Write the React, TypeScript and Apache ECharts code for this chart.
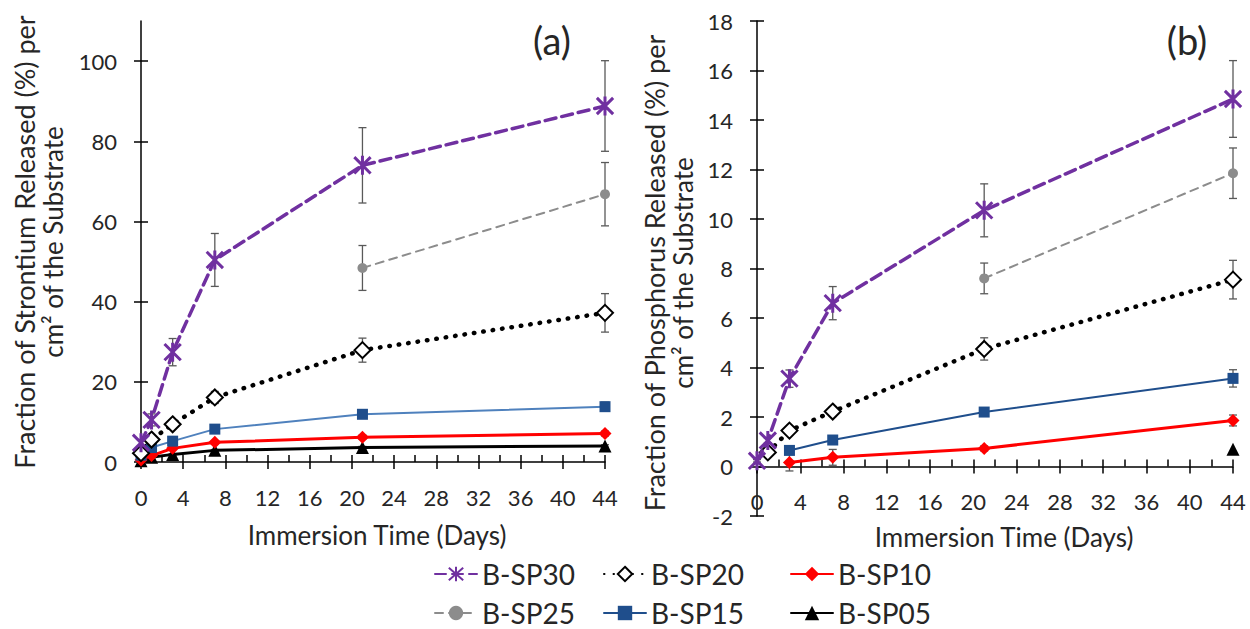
import React, { useEffect, useRef } from 'react';
import * as echarts from 'echarts';

// ---------- data ----------
const days = [0, 1, 3, 7, 21, 44];
const xTicks = [0, 4, 8, 12, 16, 20, 24, 28, 32, 36, 40, 44];
const srTicks = [0, 20, 40, 60, 80, 100];
const pTicks = [-2, 0, 2, 4, 6, 8, 10, 12, 14, 16, 18];

// Panel (a): Strontium released
const srSP30 = [4.8, 10.5, 27.4, 50.4, 74.0, 88.8];
const srSP30Err = [0.8, 1.5, 3.4, 6.6, 9.4, 11.3];
const srSP25 = [null, null, null, null, 48.4, 66.8];
const srSP25Err = [0, 0, 0, 0, 5.6, 7.9];
const srSP20 = [2.2, 5.6, 9.4, 16.1, 27.9, 37.2];
const srSP20Err = [0.3, 0.6, 1.0, 1.5, 3.0, 4.8];
const srSP15 = [1.7, 3.6, 5.2, 8.2, 11.9, 13.8];
const srSP15Err = [0.2, 0.3, 0.4, 0.6, 0.8, 1.1];
const srSP10 = [0.5, 1.6, 3.4, 4.9, 6.2, 7.1];
const srSP10Err = [0.1, 0.2, 0.3, 0.4, 0.5, 0.6];
const srSP05 = [0.3, 1.2, 1.9, 2.9, 3.6, 4.0];
const srSP05Err = [0.1, 0.1, 0.2, 0.2, 0.3, 0.3];

// Panel (b): Phosphorus released
const pSP30 = [0.23, 1.05, 3.55, 6.6, 10.35, 14.85];
const pSP30Err = [0.05, 0.1, 0.35, 0.67, 1.07, 1.55];
const pSP25 = [null, null, null, null, 7.6, 11.85];
const pSP25Err = [0, 0, 0, 0, 0.62, 1.02];
const pSP20 = [null, 0.57, 1.45, 2.22, 4.75, 7.55];
const pSP20Err = [0, 0.08, 0.12, 0.2, 0.45, 0.78];
const pSP15 = [null, null, 0.65, 1.07, 2.2, 3.56];
const pSP15Err = [0, 0, 0.05, 0.1, 0.12, 0.35];
const pSP10 = [null, null, 0.16, 0.37, 0.73, 1.86];
const pSP10Err = [0, 0, 0.34, 0.32, 0.1, 0.22];
const pSP05 = [null, null, null, null, null, 0.7];
const pSP05Err = [0, 0, 0, 0, 0, 0];

// ---------- styles ----------
const FONT = 'Lato, "Open Sans", sans-serif';
const TEXT = '#262626';
const STAR = 'path://M1,1L13,13M13,1L1,13M7,0L7,14';

type Sty = {
  color: string; width: number; type: any; symbol: string;
  size: number; border?: number; borderColor?: string;
};
const STY: Record<string, Sty> = {
  'B-SP30': { color: '#7030A0', width: 3.5, type: [11, 6], symbol: STAR, size: 19, border: 3, borderColor: '#7030A0' },
  'B-SP25': { color: '#8C8C8C', width: 2, type: [8, 6], symbol: 'circle', size: 10 },
  'B-SP20': { color: '#000000', width: 4.5, type: [0.5, 9], symbol: 'emptyDiamond', size: 16, border: 3 },
  'B-SP15': { color: '#1F4E8C', width: 2, type: 'solid', symbol: 'rect', size: 11 },
  'B-SP10': { color: '#FF0000', width: 3, type: 'solid', symbol: 'diamond', size: 13 },
  'B-SP05': { color: '#000000', width: 3, type: 'solid', symbol: 'triangle', size: 13 },
};

function pts(vals: (number | null)[]) {
  return days.map((d, i) => (vals[i] == null ? null : [d, vals[i]])).filter((p) => p !== null);
}
function errs(vals: (number | null)[], e: number[]) {
  return days
    .map((d, i) => (vals[i] == null || !e[i] ? null : [d, (vals[i] as number) - e[i], (vals[i] as number) + e[i]]))
    .filter((p) => p !== null);
}

function lineSeries(name: string, vals: (number | null)[], axis: number, lineColor?: string, z = 3) {
  const s = STY[name];
  return {
    type: 'line',
    name,
    xAxisIndex: axis,
    yAxisIndex: axis,
    data: pts(vals),
    symbol: s.symbol,
    symbolSize: s.size,
    symbolKeepAspect: true,
    showAllSymbol: true,
    z,
    lineStyle: { color: lineColor || s.color, width: s.width, type: s.type, cap: 'round' },
    itemStyle: {
      color: s.color,
      borderColor: s.borderColor || s.color,
      borderWidth: s.border || 0,
    },
    emphasis: { disabled: true },
  };
}

function errSeries(data: any[], axis: number) {
  return {
    type: 'custom',
    xAxisIndex: axis,
    yAxisIndex: axis,
    data,
    z: 2,
    silent: true,
    encode: { x: 0, y: [1, 2] },
    renderItem: (params: any, api: any) => {
      const x = api.value(0);
      const p1 = api.coord([x, api.value(1)]);
      const p2 = api.coord([x, api.value(2)]);
      const w = 4;
      const st = { stroke: '#595959', lineWidth: 1.3 };
      return {
        type: 'group',
        children: [
          { type: 'line', shape: { x1: p1[0], y1: p1[1], x2: p2[0], y2: p2[1] }, style: st },
          { type: 'line', shape: { x1: p1[0] - w, y1: p1[1], x2: p1[0] + w, y2: p1[1] }, style: st },
          { type: 'line', shape: { x1: p2[0] - w, y1: p2[1], x2: p2[0] + w, y2: p2[1] }, style: st },
        ],
      };
    },
  };
}

function xAxes(grid: number, offset: number) {
  const base = {
    type: 'value', gridIndex: grid, min: 0, max: 44, interval: 4, position: 'bottom', offset,
    splitLine: { show: false },
  };
  return [
    {
      ...base,
      axisLine: { show: true, onZero: false, lineStyle: { color: '#000', width: 1.5 } },
      axisTick: { show: true, inside: false, length: 7, lineStyle: { color: '#000', width: 1.5 } },
      axisLabel: { show: true, margin: 24, fontSize: 22, fontFamily: FONT, color: TEXT, customValues: xTicks },
    },
    {
      ...base,
      axisLine: { show: false, onZero: false },
      axisTick: { show: true, inside: true, length: 7, lineStyle: { color: '#000', width: 1.5 } },
      minorTick: { show: true, splitNumber: 2, length: 7, lineStyle: { color: '#000', width: 1.5 } },
      axisLabel: { show: false },
    },
  ];
}

function yAxes(grid: number, min: number, max: number, interval: number, ticks: number[]) {
  const base = { type: 'value', gridIndex: grid, min, max, interval, position: 'left', splitLine: { show: false } };
  return [
    {
      ...base,
      axisLine: { show: true, onZero: false, lineStyle: { color: '#000', width: 1.5 } },
      axisTick: { show: true, inside: false, length: 7, customValues: ticks, lineStyle: { color: '#000', width: 1.5 } },
      axisLabel: { show: true, margin: 24, fontSize: 22, fontFamily: FONT, color: TEXT, customValues: ticks },
    },
    {
      ...base,
      axisLine: { show: false, onZero: false },
      axisTick: { show: true, inside: true, length: 7, customValues: ticks, lineStyle: { color: '#000', width: 1.5 } },
      axisLabel: { show: false },
    },
  ];
}

function txt(text: string, x: number, y: number, size: number, rot = 0) {
  return {
    type: 'text',
    x,
    y,
    rotation: rot,
    silent: true,
    style: {
      text,
      font: `${size}px ${FONT}`,
      fill: TEXT,
      textAlign: 'center',
      textVerticalAlign: 'middle',
      align: 'center',
      verticalAlign: 'middle',
    },
  };
}

function legendItem(left: number, top: number, name: string) {
  return {
    left,
    top,
    padding: 0,
    itemWidth: 42,
    itemHeight: 18,
    selectedMode: false,
    data: [name],
    textStyle: { fontSize: 28, fontFamily: FONT, color: TEXT, lineHeight: 30 },
  };
}

export default function App() {
  const ref = useRef<HTMLDivElement>(null);
  useEffect(() => {
    if (!ref.current) return;
    const chart = echarts.init(ref.current, undefined, { renderer: 'svg' });
    const gridBH = 495;
    const zeroOffsetB = -(gridBH * 2) / 20; // move (b) x-axis onto y = 0
    const option: any = {
      animation: false,
      backgroundColor: '#ffffff',
      grid: [
        { left: 141, top: 21, width: 464, height: 441 },
        { left: 757, top: 21, width: 476, height: gridBH },
      ],
      xAxis: [...xAxes(0, 0), ...xAxes(1, zeroOffsetB)],
      yAxis: [...yAxes(0, 0, 110, 20, srTicks), ...yAxes(1, -2, 18, 2, pTicks)],
      legend: [
        legendItem(434, 559, 'B-SP30'),
        legendItem(603, 559, 'B-SP20'),
        legendItem(790, 559, 'B-SP10'),
        legendItem(434, 598, 'B-SP25'),
        legendItem(603, 598, 'B-SP15'),
        legendItem(790, 598, 'B-SP05'),
      ],
      series: [
        // panel (b) first (legend icons taken from these)
        lineSeries('B-SP05', pSP05, 2),
        lineSeries('B-SP10', pSP10, 2),
        lineSeries('B-SP15', pSP15, 2),
        lineSeries('B-SP20', pSP20, 2),
        lineSeries('B-SP25', pSP25, 2),
        lineSeries('B-SP30', pSP30, 2, undefined, 4),
        errSeries(
          [
            ...errs(pSP30, pSP30Err), ...errs(pSP25, pSP25Err), ...errs(pSP20, pSP20Err),
            ...errs(pSP15, pSP15Err), ...errs(pSP10, pSP10Err), ...errs(pSP05, pSP05Err),
          ],
          2
        ),
        // panel (a)
        lineSeries('B-SP05', srSP05, 0),
        lineSeries('B-SP10', srSP10, 0),
        lineSeries('B-SP15', srSP15, 0, '#4F81BD'),
        lineSeries('B-SP20', srSP20, 0),
        lineSeries('B-SP25', srSP25, 0),
        lineSeries('B-SP30', srSP30, 0, undefined, 4),
        errSeries(
          [
            ...errs(srSP30, srSP30Err), ...errs(srSP25, srSP25Err), ...errs(srSP20, srSP20Err),
            ...errs(srSP15, srSP15Err), ...errs(srSP10, srSP10Err), ...errs(srSP05, srSP05Err),
          ],
          0
        ),
      ],
      graphic: [
        txt('(a)', 552, 40, 38),
        txt('(b)', 1187, 40, 38),
        txt('Immersion Time (Days)', 377, 535, 26),
        txt('Immersion Time (Days)', 1004, 537, 26),
        txt('Fraction of Strontium Released (%) per', 24, 242, 27, Math.PI / 2),
        txt('cm² of the Substrate', 53, 242, 26, Math.PI / 2),
        txt('Fraction of Phosphorus Released (%) per', 654, 273, 27, Math.PI / 2),
        txt('cm² of the Substrate', 683, 273, 26, Math.PI / 2),
      ],
    };
    chart.setOption(option);
    return () => chart.dispose();
  }, []);
  return (
    <div
      ref={ref}
      style={{ position: 'fixed', left: 0, top: 0, width: 1250, height: 629, background: '#fff' }}
    />
  );
}
